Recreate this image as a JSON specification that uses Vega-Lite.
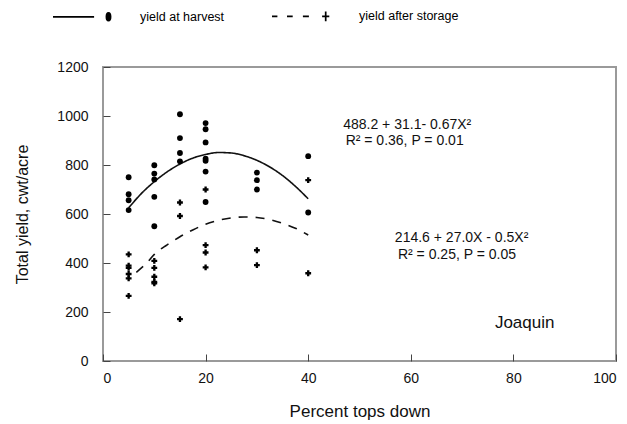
{
  "$schema": "https://vega.github.io/schema/vega-lite/v6.json",
  "width": 513,
  "height": 294,
  "autosize": "none",
  "padding": {"left": 103, "top": 67, "right": 11, "bottom": 63},
  "background": "white",
  "config": {
    "font": "Liberation Sans",
    "view": {"stroke": "#9a9a9a", "strokeWidth": 2},
    "axis": {"grid": false, "domain": false, "tickColor": "#444", "tickSize": -7, "tickWidth": 1, "labelFontSize": 14, "labelColor": "#111", "titleFontWeight": "normal", "titleColor": "#111"}
  },
  "datasets": {
    "obs": [
      {"pct": 5, "yield": 750, "series": "yield at harvest"},
      {"pct": 5, "yield": 681, "series": "yield at harvest"},
      {"pct": 5, "yield": 656, "series": "yield at harvest"},
      {"pct": 5, "yield": 616, "series": "yield at harvest"},
      {"pct": 10, "yield": 799, "series": "yield at harvest"},
      {"pct": 10, "yield": 765, "series": "yield at harvest"},
      {"pct": 10, "yield": 741, "series": "yield at harvest"},
      {"pct": 10, "yield": 670, "series": "yield at harvest"},
      {"pct": 10, "yield": 550, "series": "yield at harvest"},
      {"pct": 15, "yield": 1007, "series": "yield at harvest"},
      {"pct": 15, "yield": 910, "series": "yield at harvest"},
      {"pct": 15, "yield": 849, "series": "yield at harvest"},
      {"pct": 15, "yield": 815, "series": "yield at harvest"},
      {"pct": 20, "yield": 971, "series": "yield at harvest"},
      {"pct": 20, "yield": 946, "series": "yield at harvest"},
      {"pct": 20, "yield": 892, "series": "yield at harvest"},
      {"pct": 20, "yield": 826, "series": "yield at harvest"},
      {"pct": 20, "yield": 817, "series": "yield at harvest"},
      {"pct": 20, "yield": 773, "series": "yield at harvest"},
      {"pct": 20, "yield": 649, "series": "yield at harvest"},
      {"pct": 30, "yield": 769, "series": "yield at harvest"},
      {"pct": 30, "yield": 738, "series": "yield at harvest"},
      {"pct": 30, "yield": 700, "series": "yield at harvest"},
      {"pct": 40, "yield": 836, "series": "yield at harvest"},
      {"pct": 40, "yield": 606, "series": "yield at harvest"},
      {"pct": 5, "yield": 435, "series": "yield after storage"},
      {"pct": 5, "yield": 389, "series": "yield after storage"},
      {"pct": 5, "yield": 380, "series": "yield after storage"},
      {"pct": 5, "yield": 355, "series": "yield after storage"},
      {"pct": 5, "yield": 337, "series": "yield after storage"},
      {"pct": 5, "yield": 266, "series": "yield after storage"},
      {"pct": 10, "yield": 409, "series": "yield after storage"},
      {"pct": 10, "yield": 380, "series": "yield after storage"},
      {"pct": 10, "yield": 344, "series": "yield after storage"},
      {"pct": 10, "yield": 323, "series": "yield after storage"},
      {"pct": 10, "yield": 317, "series": "yield after storage"},
      {"pct": 15, "yield": 647, "series": "yield after storage"},
      {"pct": 15, "yield": 592, "series": "yield after storage"},
      {"pct": 15, "yield": 171, "series": "yield after storage"},
      {"pct": 20, "yield": 700, "series": "yield after storage"},
      {"pct": 20, "yield": 473, "series": "yield after storage"},
      {"pct": 20, "yield": 443, "series": "yield after storage"},
      {"pct": 20, "yield": 382, "series": "yield after storage"},
      {"pct": 30, "yield": 452, "series": "yield after storage"},
      {"pct": 30, "yield": 391, "series": "yield after storage"},
      {"pct": 40, "yield": 738, "series": "yield after storage"},
      {"pct": 40, "yield": 358, "series": "yield after storage"}
    ],
    "curves": [
      {"pct": 5, "yield": 625, "fit": "harvest fit"},
      {"pct": 7.5, "yield": 684, "fit": "harvest fit"},
      {"pct": 10, "yield": 732, "fit": "harvest fit"},
      {"pct": 12.5, "yield": 772, "fit": "harvest fit"},
      {"pct": 15, "yield": 804, "fit": "harvest fit"},
      {"pct": 17.5, "yield": 828, "fit": "harvest fit"},
      {"pct": 20, "yield": 843, "fit": "harvest fit"},
      {"pct": 22.5, "yield": 851, "fit": "harvest fit"},
      {"pct": 25, "yield": 849, "fit": "harvest fit"},
      {"pct": 27.5, "yield": 838, "fit": "harvest fit"},
      {"pct": 30, "yield": 819, "fit": "harvest fit"},
      {"pct": 32.5, "yield": 792, "fit": "harvest fit"},
      {"pct": 35, "yield": 757, "fit": "harvest fit"},
      {"pct": 37.5, "yield": 713, "fit": "harvest fit"},
      {"pct": 40, "yield": 662, "fit": "harvest fit"},
      {"pct": 6.5, "yield": 362, "fit": "storage fit"},
      {"pct": 8.75, "yield": 405, "fit": "storage fit"},
      {"pct": 10, "yield": 435, "fit": "storage fit"},
      {"pct": 12.5, "yield": 474, "fit": "storage fit"},
      {"pct": 15, "yield": 507, "fit": "storage fit"},
      {"pct": 17.5, "yield": 535, "fit": "storage fit"},
      {"pct": 20, "yield": 558, "fit": "storage fit"},
      {"pct": 22.5, "yield": 574, "fit": "storage fit"},
      {"pct": 25, "yield": 584, "fit": "storage fit"},
      {"pct": 27.5, "yield": 588, "fit": "storage fit"},
      {"pct": 30, "yield": 586, "fit": "storage fit"},
      {"pct": 32.5, "yield": 577, "fit": "storage fit"},
      {"pct": 35, "yield": 562, "fit": "storage fit"},
      {"pct": 37.5, "yield": 542, "fit": "storage fit"},
      {"pct": 40, "yield": 514, "fit": "storage fit"}
    ],
    "equations": [
      {"pct": 59.3, "yield": 962, "label": "488.2 + 31.1- 0.67X²"},
      {"pct": 58.8, "yield": 897, "label": "R² = 0.36, P = 0.01"},
      {"pct": 69.9, "yield": 504, "label": "214.6 + 27.0X - 0.5X²"},
      {"pct": 69.0, "yield": 432, "label": "R² = 0.25, P = 0.05"}
    ],
    "site": [
      {"pct": 82.2, "yield": 154, "label": "Joaquin"}
    ]
  },
  "layer": [
    {
      "data": {"name": "curves"},
      "mark": {"type": "line", "interpolate": "monotone", "color": "#111", "strokeWidth": 1.6},
      "encoding": {
        "x": {"field": "pct", "type": "quantitative", "scale": {"domain": [0, 100], "nice": false, "zero": false},
              "axis": {"values": [0, 20, 40, 60, 80, 100], "title": "Percent tops down", "titleFontSize": 17, "labelPadding": 17, "titlePadding": 18}},
        "y": {"field": "yield", "type": "quantitative", "scale": {"domain": [0, 1200], "nice": false},
              "axis": {"values": [0, 200, 400, 600, 800, 1000, 1200], "format": "d", "title": "Total yield, cwt/acre", "titleFontSize": 16, "labelPadding": 22, "titlePadding": 26}},
        "detail": {"field": "fit", "type": "nominal"},
        "strokeDash": {"field": "fit", "type": "nominal", "scale": {"domain": ["harvest fit", "storage fit"], "range": [[1, 0], [9, 8]]}, "legend": null}
      }
    },
    {
      "data": {"name": "obs"},
      "transform": [{"filter": "datum.series === 'yield at harvest'"}],
      "mark": {"type": "point", "shape": "circle", "filled": true, "opacity": 1, "color": "#000", "size": 34},
      "encoding": {
        "x": {"field": "pct", "type": "quantitative"},
        "y": {"field": "yield", "type": "quantitative"}
      }
    },
    {
      "data": {"name": "obs"},
      "transform": [{"filter": "datum.series === 'yield after storage'"}],
      "mark": {"type": "point", "shape": "cross", "filled": true, "opacity": 1, "color": "#000", "size": 34},
      "encoding": {
        "x": {"field": "pct", "type": "quantitative"},
        "y": {"field": "yield", "type": "quantitative"}
      }
    },
    {
      "data": {"name": "obs"},
      "mark": {"type": "point", "filled": false, "opacity": 0, "color": "#000", "size": 1, "strokeWidth": 1.7},
      "encoding": {
        "x": {"field": "pct", "type": "quantitative"},
        "y": {"field": "yield", "type": "quantitative"},
        "shape": {"field": "series", "type": "nominal",
          "scale": {"domain": ["yield at harvest", "yield after storage"],
                    "range": ["M-1,0L0.37,0M0.78,0A0.07,0.13,0,1,1,0.92,0A0.07,0.13,0,1,1,0.78,0ZM0.82,0A0.03,0.08,0,1,1,0.88,0A0.03,0.08,0,1,1,0.82,0Z", "M-1,0L-0.82,0M-0.5,0L-0.31,0M0.03,0L0.23,0M0.67,0L0.91,0M0.79,-0.16L0.79,0.16"]},
          "legend": {
            "title": null, "orient": "none", "legendX": -51, "legendY": -82, "direction": "horizontal",
            "padding": 0, "symbolSize": 3600, "labelOffset": 26, "columnPadding": 43,
            "labelFontSize": 12.5, "labelColor": "#000", "labelFont": "Liberation Sans",
            "symbolStrokeColor": "#000", "symbolStrokeWidth": 1.7, "symbolOpacity": 1,
            "encode": {"symbols": {"update": {
              "fill": {"value": "#000"}, "stroke": {"value": "#000"}, "strokeWidth": {"value": 1.7},
              "opacity": {"value": 1}, "fillOpacity": {"value": 1}, "strokeOpacity": {"value": 1}, "size": {"value": 3600}
            }}}
          }
        }
      }
    },
    {
      "data": {"name": "equations"},
      "mark": {"type": "text", "fontSize": 14, "color": "#111", "align": "center", "baseline": "middle", "font": "Liberation Sans"},
      "encoding": {
        "x": {"field": "pct", "type": "quantitative"},
        "y": {"field": "yield", "type": "quantitative"},
        "text": {"field": "label", "type": "nominal"}
      }
    },
    {
      "data": {"name": "site"},
      "mark": {"type": "text", "fontSize": 17, "color": "#111", "align": "center", "baseline": "middle", "font": "Liberation Sans"},
      "encoding": {
        "x": {"field": "pct", "type": "quantitative"},
        "y": {"field": "yield", "type": "quantitative"},
        "text": {"field": "label", "type": "nominal"}
      }
    }
  ]
}
